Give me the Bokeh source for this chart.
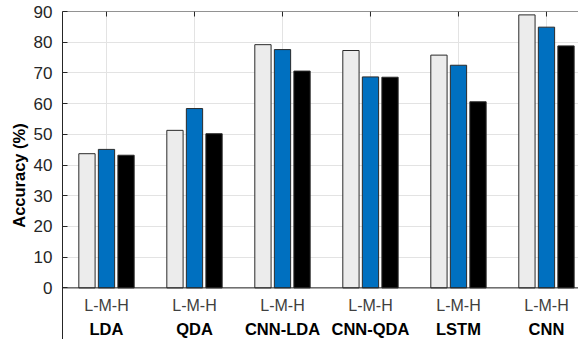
import math
from bokeh.plotting import figure
from bokeh.models import FixedTicker, Span, Range1d, ColumnDataSource
from bokeh.core.properties import value
from bokeh.embed import file_html
from bokeh.resources import INLINE

methods = ["LDA", "QDA", "CNN-LDA", "CNN-QDA", "LSTM", "CNN"]
sub_label = "L-M-H"
low = [43.7, 51.3, 79.2, 77.3, 75.8, 88.9]
medium = [45.1, 58.4, 77.6, 68.7, 72.5, 84.9]
high = [43.2, 50.2, 70.6, 68.6, 60.6, 78.8]
y_ticks = [0, 10, 20, 30, 40, 50, 60, 70, 80, 90]

YMAX = 90
YMIN = -16.8
XMIN = 0.5
XMAX = 6.364
BAR_W = 0.185
OFFSET = 0.222

pos = list(range(1, len(methods) + 1))

p = figure(width=578, height=339, output_backend="svg", toolbar_location=None,
           x_range=Range1d(XMIN, XMAX), y_range=Range1d(YMIN, YMAX),
           min_border_left=62, min_border_right=0, min_border_bottom=0, min_border_top=11)
p.outline_line_color = None
p.background_fill_color = "white"
p.border_fill_color = "white"

# grids
p.xgrid.visible = False
p.ygrid.ticker = FixedTicker(ticks=y_ticks)
p.ygrid.grid_line_color = "#e3e3e3"
p.ygrid.grid_line_width = 1
p.segment(x0=pos, y0=[0] * len(pos), x1=pos, y1=[YMAX] * len(pos),
          line_color="#e3e3e3", line_width=1)

# bars
series = [(low, "#ececec", -OFFSET), (medium, "#0070c0", 0.0), (high, "#000000", OFFSET)]
for vals, col, off in series:
    src = ColumnDataSource(dict(x=[q + off for q in pos], top=vals))
    p.vbar(x="x", top="top", bottom=0, width=BAR_W, source=src,
           fill_color=col, line_color="#2a2a2a", line_width=1)

# zero line and top border
p.add_layout(Span(location=0, dimension="width", line_color="#262626", line_width=1))
p.add_layout(Span(location=YMAX, dimension="width", line_color="#262626", line_width=1))

# top inward ticks at group centres
p.ray(x=pos, y=[YMAX] * len(pos), length=5, length_units="screen", angle=-math.pi / 2,
      line_color="#262626", line_width=1)

# y axis
p.yaxis.ticker = FixedTicker(ticks=y_ticks)
p.yaxis.major_tick_in = 5
p.yaxis.major_tick_out = 0
p.yaxis.minor_tick_line_color = None
p.yaxis.axis_line_color = "#262626"
p.yaxis.major_tick_line_color = "#262626"
p.yaxis.major_label_text_font = "Liberation Sans"
p.yaxis.major_label_text_font_size = "17px"
p.yaxis.major_label_text_color = "#262626"
p.yaxis.major_label_standoff = 10
p.yaxis.axis_label = "Accuracy (%)"
p.yaxis.axis_label_text_font = "Liberation Sans"
p.yaxis.axis_label_text_font_size = "16.5px"
p.yaxis.axis_label_text_font_style = "bold"
p.yaxis.axis_label_text_color = "#000000"
p.yaxis.axis_label_standoff = 3

p.xaxis.visible = False

# category labels
lab_src = ColumnDataSource(dict(x=pos, y=[0] * len(pos), sub=[sub_label] * len(pos), name=methods))
p.text(x="x", y="y", text="sub", source=lab_src, text_align="center", text_baseline="middle",
       y_offset=18, text_font=value("Liberation Sans"), text_font_size="16px", text_color="#404040")
p.text(x="x", y="y", text="name", source=lab_src, text_align="center", text_baseline="middle",
       y_offset=41, text_font=value("Liberation Sans"), text_font_size="16.5px",
       text_font_style="bold", text_color="#000000")

open("out.html", "w").write(file_html(p, INLINE))
